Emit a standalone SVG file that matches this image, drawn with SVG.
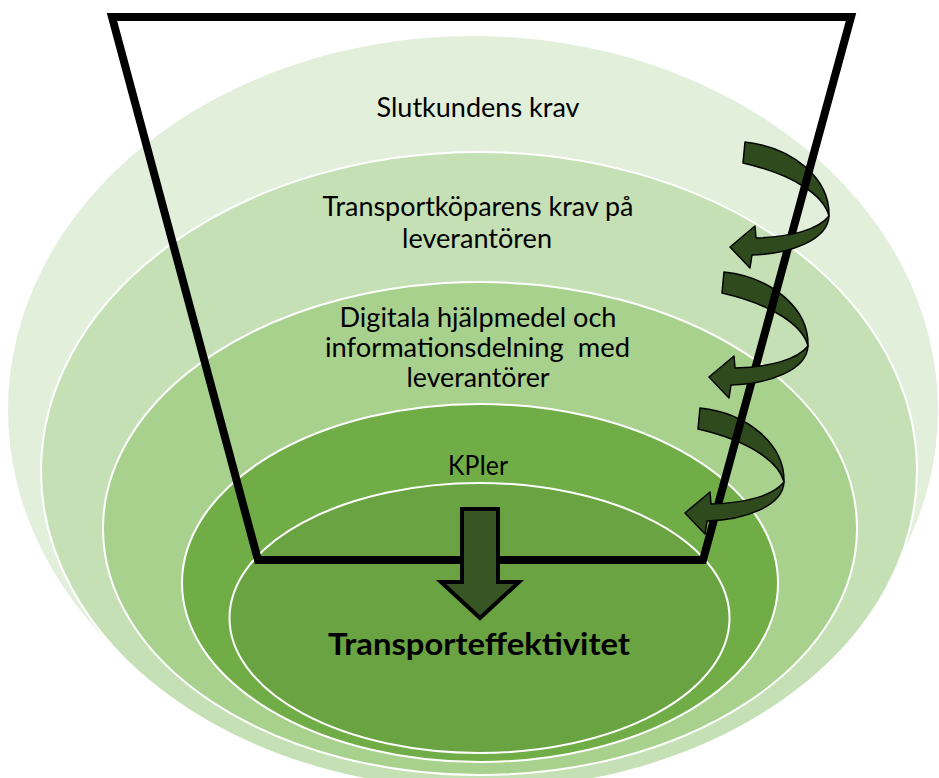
<svg xmlns="http://www.w3.org/2000/svg" width="939" height="778" viewBox="0 0 939 778">
<style>
  .ring{stroke:#ffffff;stroke-width:2}
  .lbl{font-family:Lato,"Open Sans","Liberation Sans",sans-serif;font-size:26px;fill:#000000;text-anchor:middle}
  .title{font-weight:bold;font-size:31px}
  .ribbon{fill:#2f4b1e;stroke:#000000;stroke-width:1.5;stroke-linejoin:round}
  .funnel{fill:none;stroke:#000000;stroke-width:8;stroke-linejoin:miter}
  .down{fill:#375623;stroke:#000000;stroke-width:4;stroke-linejoin:miter}
</style>
<defs>
  <path id="bandTop" d="M0,0 C47,5 85,36 84,74 C79,54 50,33 -2,21 Z"/>
  <path id="bandBottom" d="M84,74 C83,98 45,112 7,113 L5,126 L-15,105 L10,84 L11,96 C45,95 73,88 84,74 Z"/>
</defs>

<g id="level1">
  <ellipse cx="473" cy="410" rx="465" ry="374" fill="#e2efda"/>
  <text class="lbl" x="478" y="117" textLength="203" lengthAdjust="spacingAndGlyphs">Slutkundens krav</text>
</g>
<g id="level2">
  <ellipse class="ring" cx="479" cy="471" rx="438" ry="319" fill="#c5e0b4"/>
  <text class="lbl" x="478" y="216" textLength="311" lengthAdjust="spacingAndGlyphs">Transportköparens krav på</text>
  <text class="lbl" x="477" y="248" textLength="150" lengthAdjust="spacingAndGlyphs">leverantören</text>
</g>
<g id="level3">
  <ellipse class="ring" cx="480" cy="528.5" rx="377" ry="246.5" fill="#a9d18e"/>
  <text class="lbl" x="478" y="327" textLength="277" lengthAdjust="spacingAndGlyphs">Digitala hjälpmedel och</text>
  <text class="lbl" x="477.5" y="357" textLength="305" lengthAdjust="spacingAndGlyphs" xml:space="preserve">informationsdelning  med</text>
  <text class="lbl" x="478" y="387" textLength="143" lengthAdjust="spacingAndGlyphs">leverantörer</text>
</g>
<g id="level4">
  <ellipse class="ring" cx="480" cy="583" rx="298" ry="179" fill="#70ad47"/>
  <text class="lbl" x="478" y="475" textLength="60" lengthAdjust="spacingAndGlyphs">KPIer</text>
</g>
<g id="level5">
  <ellipse class="ring" cx="479.5" cy="618" rx="250" ry="135" fill="#6aa341"/>
  <text class="lbl title" x="479" y="655" textLength="302" lengthAdjust="spacingAndGlyphs">Transporteffektivitet</text>
</g>

<g id="connectors">
  <g id="ribbons-back">
    <use href="#bandTop" class="ribbon" transform="translate(745,142)"/>
    <use href="#bandTop" class="ribbon" transform="translate(724,272)"/>
    <use href="#bandTop" class="ribbon" transform="translate(700,408)"/>
  </g>
  <g id="funnel">
    <polygon class="funnel" points="112,17 851,17 703,560 258,560"/>
  </g>
  <g id="ribbons-front">
    <use href="#bandBottom" class="ribbon" transform="translate(745,142)"/>
    <use href="#bandBottom" class="ribbon" transform="translate(724,272)"/>
    <use href="#bandBottom" class="ribbon" transform="translate(700,408)"/>
  </g>
  <polygon id="down-arrow" class="down" points="462,509 498,509 498,582 519,582 480,618 441,582 462,582"/>
</g>
</svg>
